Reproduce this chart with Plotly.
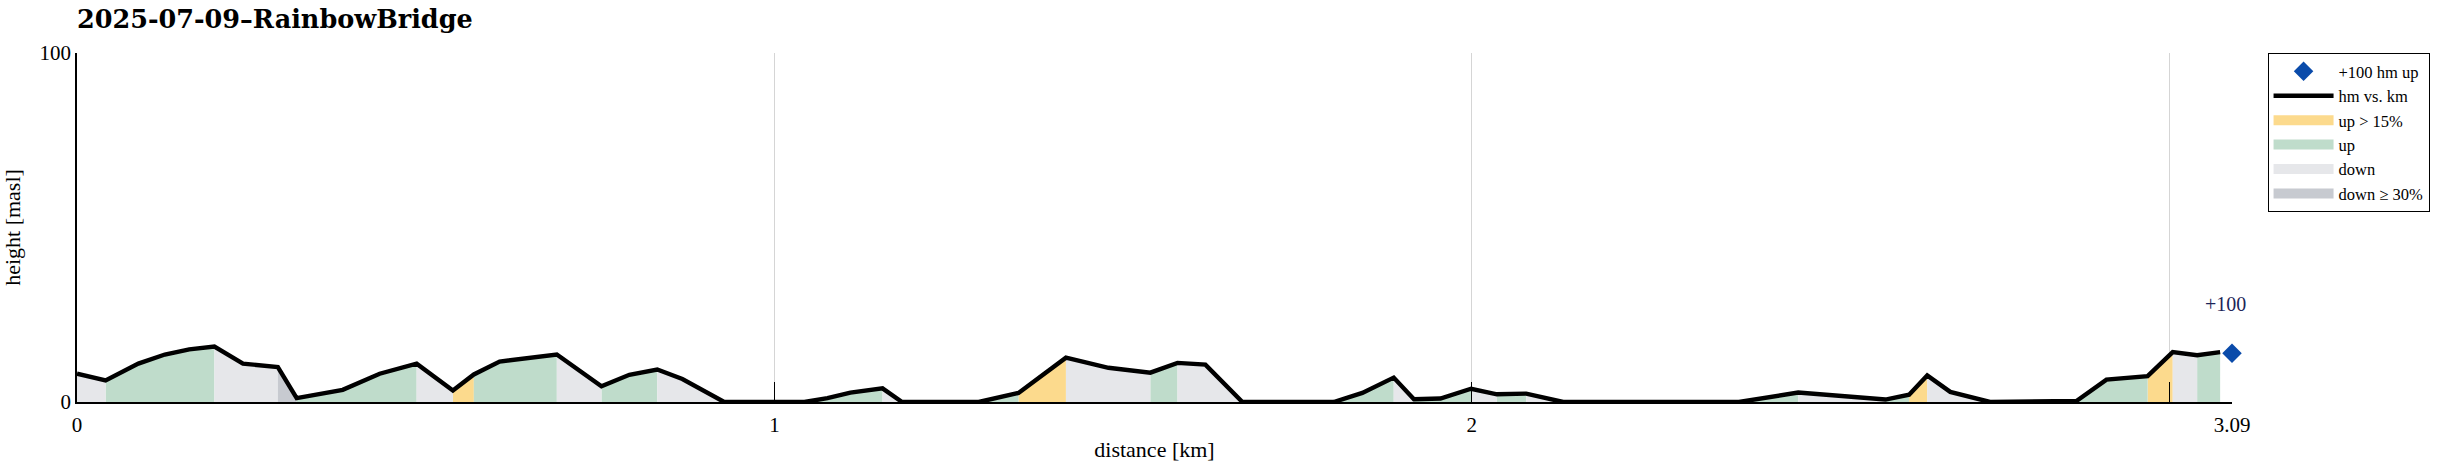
import plotly.graph_objects as go

# ---- data ----
km = [0, 0.041, 0.088, 0.126, 0.161, 0.197, 0.238, 0.288, 0.315, 0.381, 0.434, 0.487,
      0.539, 0.569, 0.606, 0.688, 0.752, 0.792, 0.832, 0.868, 0.928, 1.043, 1.076, 1.109,
      1.155, 1.183, 1.293, 1.350, 1.418, 1.479, 1.539, 1.578, 1.618, 1.671, 1.802, 1.843,
      1.888, 1.917, 1.955, 1.999, 2.036, 2.078, 2.131, 2.383, 2.468, 2.593, 2.627, 2.653,
      2.686, 2.743, 2.867, 2.910, 2.969, 3.005, 3.040, 3.073]
hm = [8.1, 6.2, 11.0, 13.6, 15.1, 15.9, 11.0, 10.0, 1.1, 3.5, 8.1, 11.0,
      3.3, 7.9, 11.6, 13.6, 4.5, 7.8, 9.3, 6.6, 0, 0, 1.1, 2.7,
      3.9, 0, 0, 2.6, 12.7, 9.8, 8.4, 11.2, 10.7, 0, 0, 2.6,
      7.0, 0.8, 1.0, 3.8, 2.2, 2.4, 0, 0, 2.7, 0.7, 2.1, 7.6,
      2.9, 0, 0.3, 6.4, 7.4, 14.3, 13.4, 14.3]
# category of each segment between consecutive points
seg_cat = ["down", "up", "up", "up", "up", "down", "down", "steep", "up", "up", "up", "down",
           "up15", "up", "up", "down", "up", "up", "down", "down", "down", "up", "up", "up",
           "down", "down", "up", "up15", "down", "down", "up", "down", "down", "down", "up", "up",
           "down", "up", "up", "down", "up", "down", "down", "up", "down", "up", "up15", "down",
           "down", "up", "up", "up", "up15", "down", "up"]
marker_km = [3.09]
marker_hm = [14.0]
marker_label = "+100"
x_tickvals = [0, 1, 2, 3, 3.09]
x_ticktext = ["0", "1", "2", "", "3.09"]
y_tickvals = [0, 100]

categories = ["up15", "up", "down", "steep"]
cat_names = {"up15": "up > 15%", "up": "up", "down": "down", "steep": "down ≥ 30%"}
cat_colors = {"up15": "#FCDA8D", "up": "#BFDCCB", "down": "#E6E7EA", "steep": "#C7CAD0"}
cat_rank = {"up15": 3, "up": 4, "down": 5, "steep": 6}

FONT = "Liberation Serif"

fig = go.Figure()

for c in categories:
    xs, ys = [], []
    for i, sc in enumerate(seg_cat):
        if sc != c:
            continue
        x0, x1 = km[i], km[i + 1]
        y0, y1 = hm[i], hm[i + 1]
        xs += [x0, x0, x1, x1, x0, None]
        ys += [0, y0, y1, 0, 0, None]
    fig.add_trace(go.Scatter(
        x=xs, y=ys, mode="lines", fill="toself", fillcolor=cat_colors[c],
        line=dict(width=0, color=cat_colors[c]), name=cat_names[c],
        showlegend=False, hoverinfo="skip"))
    # legend swatch entry
    fig.add_trace(go.Scatter(
        x=[None], y=[None], mode="lines", line=dict(width=16, color=cat_colors[c]),
        name=cat_names[c], legendrank=cat_rank[c]))

fig.add_trace(go.Scatter(
    x=km, y=hm, mode="lines", line=dict(color="black", width=4.4),
    name="hm vs. km", legendrank=2))

fig.add_trace(go.Scatter(
    x=marker_km, y=marker_hm, mode="markers",
    marker=dict(symbol="diamond", size=15, color="#0A4BAA", line=dict(width=0)),
    name="+100 hm up", legendrank=1, cliponaxis=False))

fig.add_annotation(x=marker_km[0], y=marker_hm[0], text=marker_label, showarrow=False,
                   xshift=-7, yshift=49, font=dict(family=FONT, size=20, color="#1B2458"))

fig.update_layout(
    width=2463, height=468,
    margin=dict(l=77, r=231, t=53, b=66, autoexpand=False),
    paper_bgcolor="white", plot_bgcolor="white",
    font=dict(family=FONT, size=21, color="black"),
    title=dict(text="<b>2025-07-09–RainbowBridge</b>", x=0, xref="paper", xanchor="left",
               y=1 - 19 / 468, yref="container", yanchor="middle",
               font=dict(family="DejaVu Serif", size=25.5, color="black")),
    showlegend=True,
    legend=dict(x=1.0165, xanchor="left", y=1.0, yanchor="top",
                bgcolor="white", bordercolor="black", borderwidth=1,
                font=dict(family=FONT, size=16.5), itemwidth=60,
                tracegroupgap=0, traceorder="normal"),
)

fig.update_xaxes(
    range=[0, 3.09], tickvals=x_tickvals, ticktext=x_ticktext, automargin=False,
    showline=True, linecolor="black", linewidth=1.5, mirror=False,
    ticks="inside", ticklen=20, tickcolor="black", tickwidth=1,
    showgrid=True, gridcolor="#D5D5D5", gridwidth=1, zeroline=False,
    ticklabelstandoff=3,
    title=dict(text="distance [km]", standoff=6, font=dict(family=FONT, size=22)),
)
fig.update_yaxes(
    range=[0, 100], tickvals=y_tickvals, automargin=False,
    showline=True, linecolor="black", linewidth=1.5, mirror=False,
    ticks="inside", ticklen=20, tickcolor="black", tickwidth=1,
    showgrid=True, gridcolor="#D5D5D5", gridwidth=1, zeroline=False,
    title=dict(text="height [masl]", standoff=16, font=dict(family=FONT, size=22)),
)

fig.write_html("out.html", config={"displayModeBar": False},
               post_script="document.body.style.margin='0';document.body.style.overflow='hidden';")
